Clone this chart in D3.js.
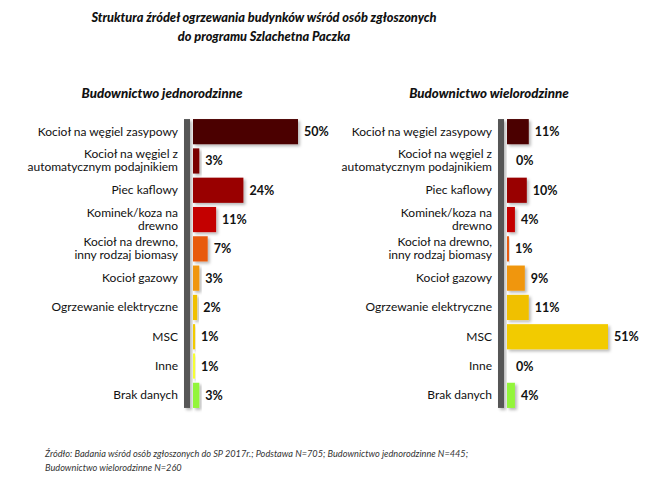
<!DOCTYPE html>
<html>
<head>
<meta charset="utf-8">
<script src="https://cdn.jsdelivr.net/npm/d3@7"></script>
<style>
body { margin: 0; background: #fff; }
svg { display: block; font-family: Lato, "Open Sans", sans-serif; }
</style>
</head>
<body>
<div class="chart"></div>
<script>
// categories (two-line labels split with |)
var categories = [
	"Kocioł na węgiel zasypowy",
	"Kocioł na węgiel z|automatycznym podajnikiem",
	"Piec kaflowy",
	"Kominek/koza na|drewno",
	"Kocioł na drewno,|inny rodzaj biomasy",
	"Kocioł gazowy",
	"Ogrzewanie elektryczne",
	"MSC",
	"Inne",
	"Brak danych"
];
var jednorodzinne = [50, 3, 24, 11, 7, 3, 2, 1, 1, 3];
var wielorodzinne = [11, 0, 10, 4, 1, 9, 11, 51, 0, 4];
var barColors = ["#4b0000", "#7a0000", "#990000", "#c40000", "#e85a0c",
	"#f0960c", "#f0c000", "#f2cb00", "#f6ff33", "#93f53a"];
var title = ["Struktura źródeł ogrzewania budynków wśród osób zgłoszonych",
	"do programu Szlachetna Paczka"];
var footnote = ["Źródło: Badania wśród osób zgłoszonych do SP 2017r.; Podstawa N=705; Budownictwo jednorodzinne N=445;",
	"Budownictwo wielorodzinne N=260"];

var svg_w = 651, svg_h = 493;
var svg = d3.select("div.chart").append("svg")
	.attr("width", svg_w)
	.attr("height", svg_h);

// soft shadow like the original
var defs = svg.append("defs");
var f = defs.append("filter").attr("id", "shadow")
	.attr("x", "-20%").attr("y", "-20%").attr("width", "160%").attr("height", "160%");
f.append("feDropShadow")
	.attr("dx", 2).attr("dy", 2).attr("stdDeviation", 1.5)
	.attr("flood-color", "#000").attr("flood-opacity", 0.28);

// title
svg.append("g").selectAll("text")
	.data(title)
	.enter()
	.append("text")
	.attr("x", 264)
	.attr("y", function(d, i) { return 22 + i * 19; })
	.attr("text-anchor", "middle")
	.style("font-weight", "900")
	.style("font-style", "italic")
	.style("font-size", "12.8px")
	.style("fill", "#111")
	.text(function(d) { return d; });

var y = d3.scaleBand()
	.domain(d3.range(categories.length))
	.range([117, 410])
	.paddingInner(0.14)
	.paddingOuter(0.07);

var panels = [
	{ name: "Budownictwo jednorodzinne", values: jednorodzinne, axisX: 184, titleX: 162,
		x: d3.scaleLinear().domain([0, 50]).range([0, 105]) },
	{ name: "Budownictwo wielorodzinne", values: wielorodzinne, axisX: 498, titleX: 489,
		x: d3.scaleLinear().domain([0, 51]).range([0, 101]) }
];

panels.forEach(function(p) {
	var g = svg.append("g");
	var x0 = p.axisX + 9;

	g.append("text")
		.attr("x", p.titleX)
		.attr("y", 98)
		.attr("text-anchor", "middle")
		.style("font-weight", "900")
		.style("font-style", "italic")
		.style("font-size", "13.3px")
		.style("fill", "#111")
		.text(p.name);

	// vertical axis bar
	g.append("rect")
		.attr("x", p.axisX)
		.attr("y", y(0))
		.attr("width", 6)
		.attr("height", y(categories.length - 1) + y.bandwidth() - y(0))
		.attr("fill", "#575757")
		.attr("filter", "url(#shadow)");

	// bars
	g.selectAll("rect.bar")
		.data(p.values)
		.enter()
		.append("rect")
		.attr("class", "bar")
		.attr("x", x0)
		.attr("y", function(d, i) { return y(i); })
		.attr("width", function(d) { return p.x(d); })
		.attr("height", y.bandwidth())
		.attr("fill", function(d, i) { return barColors[i]; })
		.attr("filter", function(d) { return d > 0 ? "url(#shadow)" : null; });

	// value labels
	g.selectAll("text.val")
		.data(p.values)
		.enter()
		.append("text")
		.attr("class", "val")
		.attr("x", function(d) { return x0 + p.x(d) + (d > 0 ? 6 : 9); })
		.attr("y", function(d, i) { return y(i) + y.bandwidth() / 2 + 4.5; })
		.style("font-weight", "bold")
		.style("font-size", "12.5px")
		.style("fill", "#111")
		.text(function(d) { return d + "%"; });

	// category labels
	var lab = g.selectAll("text.cat")
		.data(categories)
		.enter()
		.append("text")
		.attr("class", "cat")
		.attr("text-anchor", "end")
		.style("font-size", "12px")
		.style("fill", "#111");
	lab.each(function(d, i) {
		var lines = d.split("|");
		var cy = y(i) + y.bandwidth() / 2;
		var top = cy + 4 - (lines.length - 1) * 6.5;
		d3.select(this).selectAll("tspan")
			.data(lines)
			.enter()
			.append("tspan")
			.attr("x", p.axisX - 6)
			.attr("y", function(l, j) { return top + j * 13; })
			.text(function(l) { return l; });
	});
});

// footnote
svg.append("g").selectAll("text")
	.data(footnote)
	.enter()
	.append("text")
	.attr("x", 45)
	.attr("y", function(d, i) { return 457 + i * 14; })
	.style("font-style", "italic")
	.style("font-size", "9.2px")
	.style("fill", "#333")
	.text(function(d) { return d; });
</script>
</body>
</html>
